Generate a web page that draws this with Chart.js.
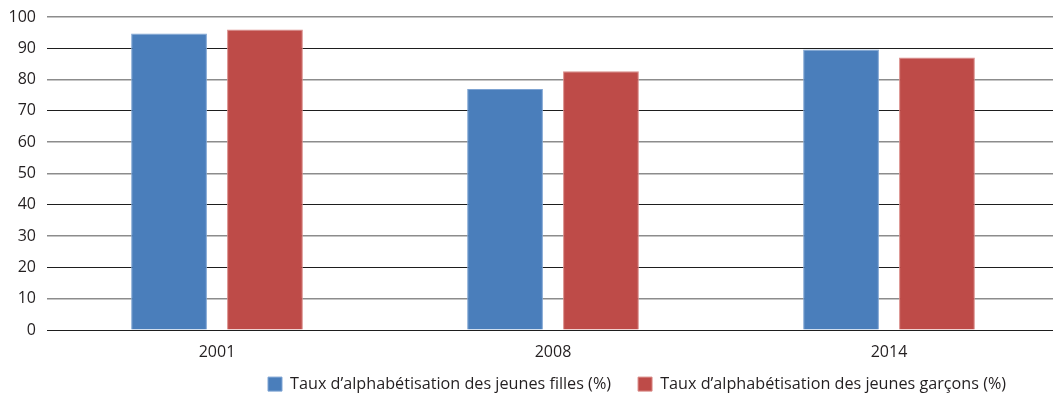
<!DOCTYPE html>
<html lang="fr">
<head>
<meta charset="utf-8">
<title>Taux d’alphabétisation des jeunes</title>
<script src="https://cdn.jsdelivr.net/npm/chart.js@4/dist/chart.umd.min.js"></script>
<style>
  html, body { margin: 0; padding: 0; background: #ffffff; }
  #wrap { position: relative; width: 1053px; height: 393px; }
</style>
</head>
<body>
<div id="wrap"><canvas id="chart"></canvas></div>
<script>
// Years on the horizontal axis
const years = ['2001', '2008', '2014'];

// Youth literacy rates (%)
const girlsRate = [94.7, 77.0, 89.6];
const boysRate = [96.0, 82.7, 87.1];

// Series names
const girlsLabel = 'Taux d’alphabétisation des jeunes filles (%)';
const boysLabel = 'Taux d’alphabétisation des jeunes garçons (%)';

// Value axis ticks
const yTicks = [0, 10, 20, 30, 40, 50, 60, 70, 80, 90, 100];

const FONT = 'Open Sans';
const TEXT = '#231f20';

// Gridlines: crisp dark rules alternate with softer grey ones
const darkRules = [0, 20, 40, 70, 90];

// Category band runs a little past the right edge of the canvas;
// the legend row sits under the year labels.
const layoutTweaks = {
  id: 'layoutTweaks',
  afterLayout(chart) {
    const x = chart.scales.x;
    x.left = 49;
    x.right = 1057;
    x.width = x.right - x.left;
    x.configure();

    const lg = chart.legend;
    if (!lg) return;
    const pad = lg.options.labels.padding;
    lg.left = 241;
    lg.right = chart.width;
    lg.top = 376 - pad;
    lg.bottom = chart.height;
    lg.width = lg.right - lg.left;
    lg.height = lg.bottom - lg.top;
  }
};

new Chart(document.getElementById('chart'), {
  type: 'bar',
  data: {
    labels: years,
    datasets: [
      {
        label: girlsLabel,
        data: girlsRate,
        backgroundColor: '#4a7ebb',
        borderColor: '#7ea4d3',
        borderWidth: 1,
        categoryPercentage: 0.571,
        barPercentage: 0.79
      },
      {
        label: boysLabel,
        data: boysRate,
        backgroundColor: '#be4b48',
        borderColor: '#d98a87',
        borderWidth: 1,
        categoryPercentage: 0.571,
        barPercentage: 0.79
      }
    ]
  },
  plugins: [layoutTweaks],
  options: {
    responsive: true,
    maintainAspectRatio: false,
    animation: false,
    devicePixelRatio: 1,
    layout: { padding: { top: 17, right: 0, bottom: 0, left: 0 } },
    plugins: {
      tooltip: { enabled: false },
      legend: {
        position: 'bottom',
        align: 'start',
        maxHeight: 30,
        labels: {
          boxWidth: 14,
          boxHeight: 14,
          padding: 27,
          color: TEXT,
          font: { family: FONT, size: 16.2 }
        }
      }
    },
    scales: {
      x: {
        afterFit(scale) { scale.height = 33; },
        grid: { display: false, drawTicks: false },
        border: { display: false },
        ticks: {
          padding: 13,
          color: TEXT,
          font: { family: FONT, size: 16 }
        }
      },
      y: {
        min: 0,
        max: 100,
        afterFit(scale) {
          scale.width = 47;
          scale.paddingTop = 0;
          scale.paddingBottom = 0;
        },
        afterBuildTicks(scale) {
          scale.ticks = yTicks.map(v => ({ value: v }));
        },
        grid: {
          drawTicks: false,
          color: ctx => darkRules.includes(ctx.tick && ctx.tick.value) ? '#1e1e1e' : '#8c8c8c',
          lineWidth: ctx => darkRules.includes(ctx.tick && ctx.tick.value) ? 1 : 1.6
        },
        border: { display: false },
        ticks: {
          padding: 11,
          color: TEXT,
          font: { family: FONT, size: 16 }
        }
      }
    }
  }
});
</script>
</body>
</html>
